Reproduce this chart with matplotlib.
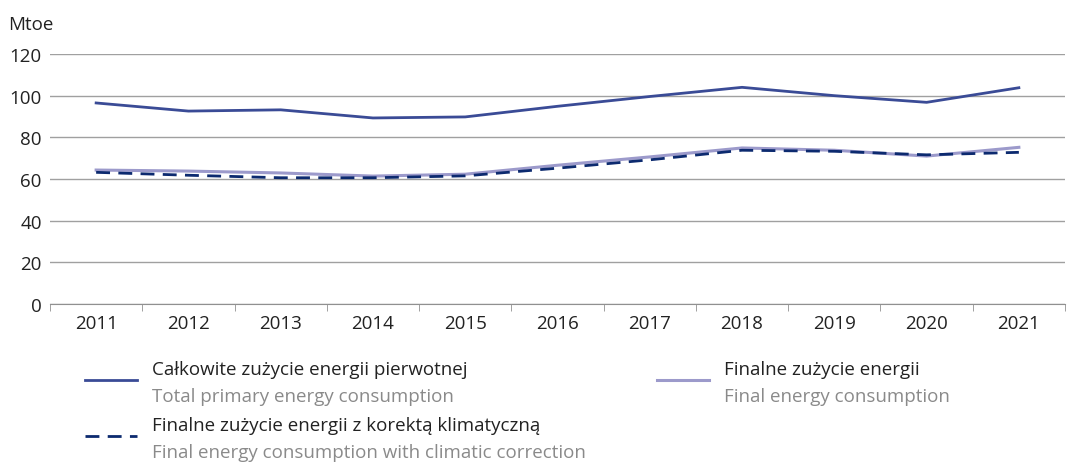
import matplotlib.pyplot as plt
from matplotlib.lines import Line2D

plt.rcParams['font.family'] = ['Open Sans', 'DejaVu Sans']

years = [2011, 2012, 2013, 2014, 2015, 2016, 2017, 2018, 2019, 2020, 2021]
total_primary = [96.5, 92.6, 93.2, 89.3, 89.8, 94.9, 99.6, 104.0, 100.0, 96.8, 103.8]
final_energy = [64.3, 63.8, 62.9, 61.4, 62.3, 66.6, 70.6, 74.9, 73.8, 71.0, 75.2]
final_climatic = [63.2, 61.8, 60.6, 60.6, 61.5, 65.2, 69.2, 73.8, 73.3, 71.6, 72.8]

labels_pl = ['Całkowite zużycie energii pierwotnej',
             'Finalne zużycie energii',
             'Finalne zużycie energii z korektą klimatyczną']
labels_en = ['Total primary energy consumption',
             'Final energy consumption',
             'Final energy consumption with climatic correction']

c_total = '#3a4b96'
c_final = '#9c9acb'
c_clim = '#0c2a6f'
grey_txt = '#8a8a8a'
fs = 13.5

fig = plt.figure(figsize=(10.67, 4.64), dpi=100)
ax = fig.add_axes([50 / 1067, 1 - 305 / 464, 1015 / 1067, 250 / 464])

ax.plot(years, total_primary, color=c_total, lw=2)
ax.plot(years, final_energy, color=c_final, lw=2.2)
ax.plot(years, final_climatic, color=c_clim, lw=2, linestyle=(0, (5, 3)))

ax.set_xlim(2010.5, 2021.5)
ax.set_ylim(0, 120)
ax.set_yticks(range(0, 121, 20))
ax.yaxis.grid(True, color='#a0a0a0', lw=1)
ax.set_axisbelow(True)
for s in ['top', 'right', 'left']:
    ax.spines[s].set_visible(False)
ax.spines['bottom'].set_color('#909090')
ax.tick_params(axis='y', length=0, labelsize=fs, pad=6, labelcolor='#222222')
ax.set_xticks(years)
ax.set_xticklabels([str(y) for y in years])
ax.tick_params(axis='x', which='major', length=0, labelsize=fs, pad=7, labelcolor='#222222')
ax.set_xticks([y + 0.5 for y in [2010] + years], minor=True)
ax.tick_params(axis='x', which='minor', length=5, color='#909090', direction='out')

fig.text(8 / 1067, 1 - 25 / 464, 'Mtoe', fontsize=fs, color='#222222', va='center')

# custom legend
def legend_entry(x0, y, color, ls, pl, en, lw):
    fig.add_artist(Line2D([x0 / 1067, (x0 + 52) / 1067], [1 - y / 464, 1 - y / 464],
                          color=color, lw=lw, linestyle=ls))
    fig.text((x0 + 67) / 1067, 1 - (y - 11) / 464, pl, fontsize=fs, color='#222222', va='center')
    fig.text((x0 + 67) / 1067, 1 - (y + 16) / 464, en, fontsize=fs, color=grey_txt, va='center')

legend_entry(85, 381, c_total, '-', labels_pl[0], labels_en[0], 2)
legend_entry(657, 381, c_final, '-', labels_pl[1], labels_en[1], 2.2)
legend_entry(85, 437, c_clim, (0, (5, 3)), labels_pl[2], labels_en[2], 2)

fig.savefig('out.png', dpi=100)
